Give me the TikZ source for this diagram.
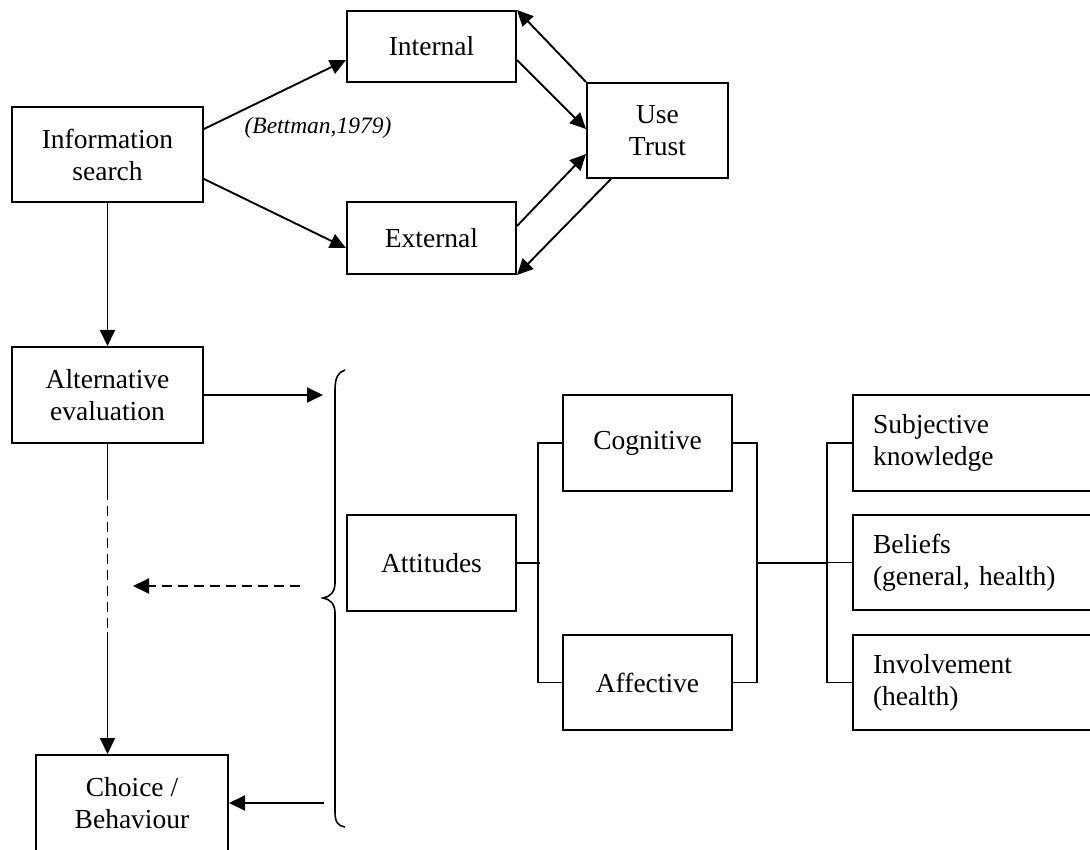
\documentclass[tikz,border=0pt]{standalone}
\usepackage{fontspec}
\setmainfont{Liberation Serif}
\usetikzlibrary{arrows.meta,calc}
\begin{document}
\begin{tikzpicture}[x=1pt,y=-1pt,
  every node/.style={font=\fontsize{27.5}{32}\selectfont},
  box/.style={draw,line width=2pt,rectangle,inner sep=0pt,align=center},
  lbox/.style={box,minimum width=248pt,text width=208pt,align=left,inner xsep=20pt,anchor=west},
  conn/.style={line width=1.9pt},
  arr/.style={conn,-{Triangle[length=16pt,width=15pt]}},
  dsh/.style={line width=1.9pt,dash pattern=on 10pt off 6pt}]
\useasboundingbox (0,0) rectangle (1090,850);
% boxes
\node[box,minimum width=191pt,minimum height=95pt] (info) at (107.5,154.5) {Information\\search};
\node[box,minimum width=169pt,minimum height=71pt] (internal) at (431.5,46.5) {Internal};
\node[box,minimum width=169pt,minimum height=72pt] (external) at (431.5,238) {External};
\node[box,minimum width=141pt,minimum height=95pt] (use) at (657.5,130.5) {Use\\Trust};
\node[font=\fontsize{23.5}{28}\selectfont\itshape] (bett) at (318,128) {(Bettman,1979)};
\node[box,minimum width=191pt,minimum height=96pt] (alt) at (107.5,395) {Alternative\\evaluation};
\node[box,minimum width=192pt,minimum height=96pt] (choice) at (132,803) {Choice /\\Behaviour};
\node[box,minimum width=169pt,minimum height=96pt] (att) at (431.5,563) {Attitudes};
\node[box,minimum width=169pt,minimum height=96pt] (cog) at (647.5,443) {Cognitive};
\node[box,minimum width=169pt,minimum height=95pt] (aff) at (647.5,682.5) {Affective};
\node[lbox,minimum height=96pt] (subj) at (852,443) {Subjective\\knowledge};
\node[lbox,minimum height=95pt] (bel) at (852,562.5) {Beliefs\\(general, health)};
\node[lbox,minimum height=95pt] (inv) at (852,682.5) {Involvement\\(health)};
% top connectors
\draw[arr] ([yshift=25.5pt]info.east) -- ([yshift=-13.5pt]internal.west);
\draw[arr] ([yshift=-24.5pt]info.east) -- ([yshift=-10pt]external.west);
\draw[arr] ([yshift=-13.5pt]internal.east) -- ([yshift=1.5pt]use.west);
\draw[arr] (use.north west) -- (internal.north east);
\draw[arr] ([yshift=12pt]external.east) -- ([yshift=-23.5pt]use.west);
\draw[arr] ([xshift=25pt]use.south west) -- (external.south east);
\draw[arr] (info.south) -- (alt.north);
% brace
\coordinate (bin) at (323,395);
\coordinate (bout) at (300,586);
\coordinate (btip) at (133,586);
\coordinate (bch) at (324,803);
\draw[line width=1.6pt] (345,370) .. controls (338,372) and (335,378) .. (335,390) -- (335,583)
  .. controls (335,592) and (330,597) .. (323,598) .. controls (330,599) and (335,604) .. (335,613)
  -- (335,812) .. controls (335,822) and (338,826) .. (345,827);
\draw[arr] (alt.east) -- (bin);
\draw[dsh,-{Triangle[length=16pt,width=15pt]}] (bout) -- (btip);
\draw[arr] (bch) -- (choice.east);
% alt to choice
\coordinate (d1) at (107.5,490);
\coordinate (d2) at (107.5,632);
\draw[conn] (alt.south) -- (d1);
\draw[dsh] (d1) -- (d2);
\draw[arr] (d2) -- ([xshift=-24.5pt]choice.north);
% attitude tree
\draw[conn] (att.east) -- ++(23,0);
\draw[conn] (cog.west) -- ++(-24,0) |- (aff.west);
\draw[conn] (cog.east) -- ++(24,0) coordinate (rb) |- (aff.east);
\draw[conn] (rb |- att.east) -- ++(71,0);
\draw[conn] (subj.west) -- ++(-25,0) |- (inv.west);
\draw[conn] (bel.west) -- ++(-25,0);
\end{tikzpicture}
\end{document}
